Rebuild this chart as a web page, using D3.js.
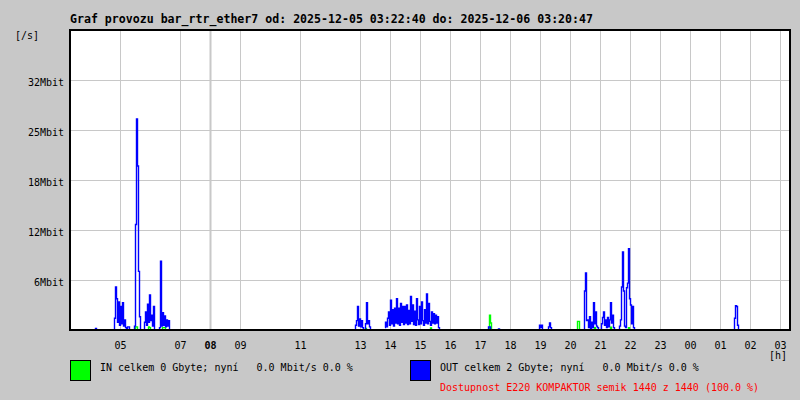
<!DOCTYPE html>
<html>
<head>
<meta charset="utf-8">
<script src="https://cdn.jsdelivr.net/npm/d3@7"></script>
<style>
  html, body { margin: 0; padding: 0; background: #c8c8c8; }
  svg { display: block; }
  text { font-family: "DejaVu Sans Mono", "Liberation Mono", monospace; }
</style>
</head>
<body>
<svg id="chart" width="800" height="400"></svg>
<script>
// ---------- DATA ----------
const titleText = "Graf provozu bar_rtr_ether7 od: 2025-12-05 03:22:40 do: 2025-12-06 03:20:47";
const timeDomain = ["2025-12-05 03:20", "2025-12-06 03:20"];
const hourTicks = ["2025-12-05 05:00","2025-12-05 07:00","2025-12-05 08:00","2025-12-05 09:00",
  "2025-12-05 11:00","2025-12-05 13:00","2025-12-05 14:00","2025-12-05 15:00","2025-12-05 16:00",
  "2025-12-05 17:00","2025-12-05 18:00","2025-12-05 19:00","2025-12-05 20:00","2025-12-05 21:00",
  "2025-12-05 22:00","2025-12-05 23:00","2025-12-06 00:00","2025-12-06 01:00","2025-12-06 02:00",
  "2025-12-06 03:00"];
const boldHour = "08";
const yTickValues = [6.4, 12.8, 19.2, 25.6, 32];
const yTickLabels = ["6Mbit", "12Mbit", "18Mbit", "25Mbit", "32Mbit"];
const yMax = 38.4;
const sampleMinutes = 2;

// OUT traffic (Mbit/s), bursts of 2-minute samples: [start, values]
const outBursts = [
  ["2025-12-05 04:10", [0, 0.2, 0]],
  ["2025-12-05 04:48", [0, 1.5, 5.5, 4.0, 1.0, 3.6, 0.6, 3.0, 0.8, 3.5, 0.5, 1.3, 0.3, 0, 0.4, 0.4, 0]],
  ["2025-12-05 05:28", [0, 0.5, 13.5, 27, 21, 7.5, 1.7, 0]],
  ["2025-12-05 05:48", [0, 1.0, 2.3, 0.6, 3.3, 1.0, 4.5, 1.2, 1.9, 0.5, 3.0, 0]],
  ["2025-12-05 06:18", [0, 0.3, 8.8, 0.5, 2.2, 0.6, 1.8, 0.4, 1.3, 0.5, 1.2, 0]],
  ["2025-12-05 12:50", [0, 0.6, 1.2, 3.0, 0.5, 1.4, 0.4, 1.2, 0.3, 0]],
  ["2025-12-05 13:10", [0, 0.8, 3.5, 0.8, 1.2, 0.4, 0]],
  ["2025-12-05 13:50", [0.3, 1.0, 0.4, 1.5, 2.3, 0.6, 3.8, 0.8, 2.6, 0.5, 2.8, 0.9, 4.0, 0.8, 2.8, 0.6,
                        3.4, 1.0, 3.0, 0.7, 3.0, 0.9, 3.2, 0.7, 2.5, 0.8, 4.3, 1.1, 3.2, 0.7, 2.4, 0.6,
                        4.0, 1.3, 0.7, 3.0, 0.8, 3.6, 1.2, 0.6, 2.6, 0.9, 4.6, 0.8, 3.4, 1.1, 0.6, 2.3,
                        0.9, 2.1, 0.8, 1.9, 0.9, 1.7, 0.3, 0]],
  ["2025-12-05 17:16", [0, 0.4, 0.4, 0]],
  ["2025-12-05 17:36", [0, 0.15, 0]],
  ["2025-12-05 18:58", [0, 0.6, 0.3, 0.6, 0]],
  ["2025-12-05 19:16", [0, 0.4, 0.9, 0.3, 0]],
  ["2025-12-05 20:28", [0, 5.0, 7.3, 1.2, 1.3, 0.3, 1.7, 0.2, 1.0, 0.3, 3.5, 0.8, 2.3, 0.5, 0.3, 0]],
  ["2025-12-05 21:02", [0, 0.8, 1.6, 2.3, 0.6, 1.3, 0.3, 1.6, 0.4, 1.3, 3.5, 0.9, 1.9, 0.3, 0]],
  ["2025-12-05 21:38", [0, 0.5, 1.3, 5.5, 10.0, 5.0, 0.5, 0.3, 5.4, 6.0, 10.4, 4.0, 3.2, 0.8, 3.0, 0.3, 0]],
  ["2025-12-06 01:28", [0, 1.5, 3.1, 3.0, 0.6, 0]]
];

// IN traffic (Mbit/s)
const inBursts = [
  ["2025-12-05 05:30", [0, 0.4, 0.4, 0]],
  ["2025-12-05 05:56", [0, 0.4, 0.3, 0]],
  ["2025-12-05 06:24", [0, 0.3, 0.3, 0.3, 0]],
  ["2025-12-05 13:10", [0, 0.2, 0]],
  ["2025-12-05 15:20", [0, 0.25, 0]],
  ["2025-12-05 17:18", [0, 1.9, 0.9, 0]],
  ["2025-12-05 20:14", [0, 1.1, 1.1, 0]],
  ["2025-12-05 20:48", [0, 0.3, 0]],
  ["2025-12-05 21:20", [0, 0.35, 0]],
  ["2025-12-05 21:56", [0, 0.3, 0]]
];

const legendIn = "IN celkem 0 Gbyte; nyní   0.0 Mbit/s 0.0 %";
const legendOut = "OUT celkem 2 Gbyte; nyní   0.0 Mbit/s 0.0 %";
const availability = "Dostupnost E220 KOMPAKTOR semik 1440 z 1440 (100.0 %)";

// ---------- DRAW ----------
const parse = d3.timeParse("%Y-%m-%d %H:%M");
const svg = d3.select("#chart");
const L = 70, T = 30, R = 790, B = 330;

const x = d3.scaleTime().domain(timeDomain.map(parse)).range([L, R]);
const y = d3.scaleLinear().domain([0, yMax]).range([B, T]);

// plot background
svg.append("rect").attr("x", L).attr("y", T).attr("width", R - L).attr("height", B - T).attr("fill", "#ffffff");

// vertical gridlines + labels
const fmtH = d3.timeFormat("%H");
const xAxis = d3.axisBottom(x)
  .tickValues(hourTicks.map(parse))
  .tickFormat(fmtH)
  .tickSizeInner(-(B - T))
  .tickSizeOuter(0)
  .tickPadding(13);
const gx = svg.append("g").attr("transform", `translate(0,${B})`).call(xAxis);
gx.select(".domain").remove();
gx.selectAll(".tick line").attr("stroke", "#c8c8c8")
  .attr("stroke-width", d => fmtH(d) === boldHour ? 2 : 1);
gx.selectAll(".tick text").attr("fill", "#000").attr("font-size", "10px")
  .attr("dy", "0.55em")
  .attr("font-weight", d => fmtH(d) === boldHour ? "bold" : "normal")
  .style("font-family", "'DejaVu Sans Mono', monospace");

// horizontal gridlines + labels
const yAxis = d3.axisLeft(y)
  .tickValues(yTickValues)
  .tickFormat((d, i) => yTickLabels[i])
  .tickSizeInner(-(R - L))
  .tickSizeOuter(0)
  .tickPadding(6);
const gy = svg.append("g").attr("transform", `translate(${L},0)`).call(yAxis);
gy.select(".domain").remove();
gy.selectAll(".tick line").attr("stroke", "#c8c8c8").attr("x1", -5);
gy.selectAll(".tick text").attr("fill", "#000").attr("font-size", "10px")
  .attr("dy", "0.55em").style("font-family", "'DejaVu Sans Mono', monospace");

// clip
svg.append("clipPath").attr("id", "plotclip").append("rect")
  .attr("x", L).attr("y", T).attr("width", R - L).attr("height", B - T);

function toPoints(burst) {
  const start = parse(burst[0]);
  return burst[1].map((v, i) => ({ t: new Date(start.getTime() + i * sampleMinutes * 60000), v }));
}
const line = d3.line().curve(d3.curveStep).x(d => x(d.t)).y(d => y(d.v));

const gData = svg.append("g").attr("clip-path", "url(#plotclip)");
gData.selectAll("path.in").data(inBursts).join("path").attr("class", "in")
  .attr("d", b => line(toPoints(b)))
  .attr("fill", "none").attr("stroke", "#00ff00").attr("stroke-width", 1.4);
gData.selectAll("path.out").data(outBursts).join("path").attr("class", "out")
  .attr("d", b => line(toPoints(b)))
  .attr("fill", "none").attr("stroke", "#0000ff").attr("stroke-width", 1.4);

// frame
svg.append("rect").attr("x", L).attr("y", T).attr("width", R - L).attr("height", B - T)
  .attr("fill", "none").attr("stroke", "#000").attr("stroke-width", 2);

// texts
svg.append("text").attr("x", L).attr("y", 23).attr("font-size", "11.5px").attr("font-weight", "bold")
  .attr("textLength", 523).attr("lengthAdjust", "spacingAndGlyphs").text(titleText);
svg.append("text").attr("x", 15).attr("y", 39).attr("font-size", "10px").text("[/s]");
svg.append("text").attr("x", 778).attr("y", 359).attr("font-size", "10px").attr("text-anchor", "middle").text("[h]");

// legend
svg.append("rect").attr("x", 70.5).attr("y", 360.5).attr("width", 20).attr("height", 20)
  .attr("fill", "#00ff00").attr("stroke", "#000");
svg.append("text").attr("x", 100).attr("y", 371).attr("font-size", "10px")
  .style("white-space", "pre").text(legendIn);
svg.append("rect").attr("x", 410.5).attr("y", 360.5).attr("width", 20).attr("height", 20)
  .attr("fill", "#0000ff").attr("stroke", "#000");
svg.append("text").attr("x", 440).attr("y", 371).attr("font-size", "10px")
  .style("white-space", "pre").text(legendOut);
svg.append("text").attr("x", 440).attr("y", 391).attr("font-size", "10px").attr("fill", "#ff0000")
  .style("white-space", "pre").text(availability);
</script>
</body>
</html>
